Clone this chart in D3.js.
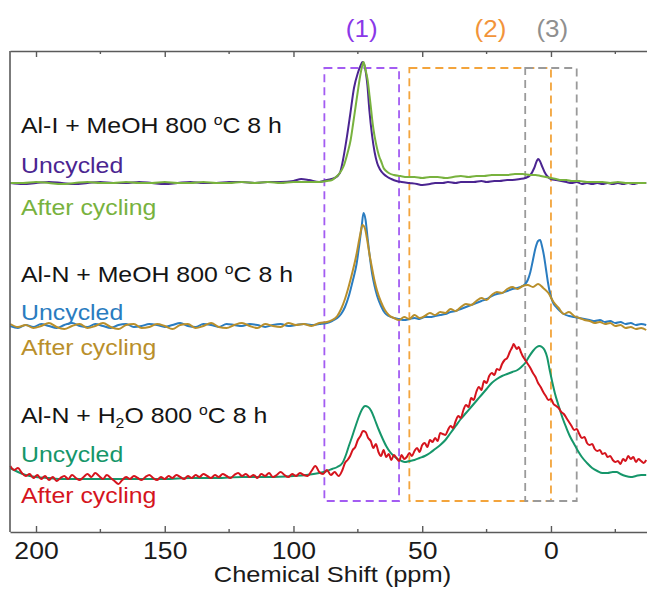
<!DOCTYPE html>
<html>
<head>
<meta charset="utf-8">
<script src="https://cdn.jsdelivr.net/npm/d3@7"></script>
<style>
  html, body { margin: 0; padding: 0; background: #fff; }
  svg { display: block; font-family: "Liberation Sans", Arial, sans-serif; }
</style>
</head>
<body>
<svg id="chart" width="647" height="589"></svg>
<script>
// ---- 27Al MAS NMR spectra: [chemical shift (ppm), intensity above the trace's own baseline] ----
const alI_uncycled = [[210,0],[205,-1],[200,0],[195,1],[190,0],[185,-1],[180,0],[175,1],[170,0],[165,0],[160,1],[155,0],[150,-1],[145,0],[140,1],[135,0],[130,0],[125,1],[120,1],[115,0],[110,1],[105,1],[100,2],[97,4],[94,3],[90,1],[87,3],[84,5],[82,10],[81,20],[79.5,42],[78,68],[76.5,95],[75,110],[74,117],[73.2,121],[72.2,115],[71.3,98],[70.5,72],[69.5,48],[68.5,31],[67.5,20],[66.5,14],[65,9],[63.5,6],[62,4],[60,2],[58,1],[55,0],[52,-1],[50,-2],[47,-1],[45,0],[42,0],[40,1],[37,0],[35,1],[32,1],[30,1],[27,2],[25,1],[22,2],[20,2],[17,3],[15,3],[12,4],[10,5],[8,8],[6.5,15],[5.5,22],[5,24],[4.3,22],[3.5,17],[2.5,11],[1.5,7],[0,4],[-2,3],[-4,2],[-6,1],[-8,0],[-10,1],[-12,-1],[-14,0],[-16,-1],[-18,0],[-20,-1],[-22,0],[-24,-1],[-26,0],[-28,-1],[-30,0],[-32,-1],[-34,0],[-37,0]];

const alI_cycled = [[210,0],[205,0],[200,1],[195,0],[190,-1],[185,0],[180,1],[175,0],[170,0],[165,1],[160,0],[155,0],[150,1],[145,0],[140,0],[135,1],[130,0],[125,0],[120,1],[115,0],[110,1],[105,0],[100,1],[95,1],[90,1],[87,2],[85,3],[83.5,6],[82,10],[80.5,17],[79,30],[77.8,43],[76.8,60],[75.9,76],[75,92],[74.3,104],[73.5,115],[72.8,121],[72,113],[71.2,103],[70.5,88],[70,77],[69.5,65],[68.9,53],[68,40],[67.3,32],[66.5,25],[66,22],[65,15],[64,12],[63,10],[61,8],[58.5,7],[56,6],[53,6],[50,5],[47,6],[44,6],[41,5],[38,6],[35,7],[32,6],[29,7],[26,7],[23,8],[20,8],[17,8],[14,9],[11,9],[8,8],[6,8],[4,7],[2,6],[0,5],[-2,4],[-4,3],[-6,3],[-8,2],[-11,2],[-14,1],[-17,1],[-20,1],[-23,0],[-26,1],[-29,0],[-32,0],[-35,0],[-37,0]];

const alNMeOH_uncycled = [[210,0],[207,-2],[204,1],[201,-1],[198,2],[195,0],[192,-2],[189,1],[186,3],[183,0],[180,-1],[177,2],[174,0],[171,-2],[168,1],[165,2],[162,-1],[159,0],[156,2],[153,1],[150,-1],[147,1],[144,3],[141,0],[138,-1],[135,2],[132,1],[129,-1],[126,2],[123,1],[120,0],[117,2],[114,1],[111,-1],[108,1],[105,2],[102,0],[99,1],[96,2],[93,1],[90,2],[87,3],[85,5],[83,8],[81.5,12],[80,19],[78.5,30],[77,45],[75.5,62],[74.5,80],[73.5,100],[72.8,113],[72,106],[71.3,90],[70.5,72],[69.5,53],[68.5,40],[67.5,30],[66,20],[64.5,13],[63,10],[61,8],[59,7],[57,6],[55,7],[53,8],[51,7],[49,9],[47,9],[45,10],[43,11],[41,12],[39,14],[37,15],[35,17],[33,19],[31,21],[29,23],[27,25],[25,27],[23,30],[21,32],[19,33],[17,35],[15,37],[13,38],[11,40],[10,42],[9,46],[8,54],[7,66],[6,78],[5,85],[4.2,86],[3.5,80],[2.7,70],[2,58],[1.2,44],[0.3,32],[-0.7,24],[-2,19],[-3.5,15],[-5,12],[-7,10],[-9,9],[-11,8],[-13,7],[-15,6],[-17,5],[-19,6],[-21,4],[-23,5],[-25,3],[-27,4],[-29,2],[-31,3],[-33,1],[-35,2],[-37,1]];

const alNMeOH_cycled = [[210,2],[207,-1],[204,1],[201,-2],[198,0],[195,3],[192,-1],[189,-3],[186,0],[183,2],[180,-2],[177,0],[174,3],[171,-1],[168,-3],[165,1],[162,2],[159,-2],[156,-1],[153,2],[150,0],[147,-3],[144,1],[141,2],[138,-2],[135,0],[132,3],[129,-1],[126,-2],[123,1],[120,3],[117,0],[114,-2],[111,2],[108,0],[105,-1],[102,3],[99,1],[96,2],[93,0],[90,3],[87,4],[85,6],[83,10],[81.5,17],[80,27],[78.5,40],[77,55],[75.5,72],[74.2,90],[73.2,101],[72.3,98],[71.5,88],[70.5,72],[69.5,58],[68.5,45],[67.5,35],[66,24],[64.5,16],[63,11],[61,8],[59,6],[57,9],[55,7],[53,11],[51,8],[49,10],[47,13],[45,11],[43,14],[41,13],[39,17],[37,15],[35,19],[33,22],[31,21],[29,25],[27,28],[25,26],[23,31],[21,34],[19,33],[17,37],[15,39],[13,37],[11,40],[9,41],[7,39],[5,42],[3,38],[1,33],[-1,24],[-3,18],[-5,12],[-7,14],[-9,10],[-11,8],[-13,6],[-15,5],[-17,3],[-19,4],[-21,2],[-23,3],[-25,0],[-27,1],[-29,-2],[-31,-1],[-33,-3],[-35,-2],[-37,-4]];

const alNH2O_uncycled = [[210,10],[207,6],[204,3],[200,1],[195,0],[190,-1],[180,-1],[170,-1],[160,-1],[150,-1],[140,0],[130,0],[120,1],[110,1],[100,2],[95,3],[90,5],[87,7],[85,9],[83,11],[81,15],[79.5,24],[78.5,32],[77.4,40],[76,51],[74.5,62],[73.3,69],[72.2,72],[71,71],[69.8,67],[68.5,59],[67,49],[65.5,40],[64,32],[62.5,26],[61,22],[59.5,19],[58,17],[56.8,16],[55,17],[53,18],[51,20],[49,22],[47,25],[45,29],[43,33],[41,38],[39,45],[37,52],[35,59],[33,65],[31,71],[29,77],[27,83],[25,89],[23,95],[21,99],[19,102],[17,104],[15,106],[13,108],[11.5,111],[10,115],[8.6,121],[7,127],[5.5,131],[4.5,132],[3.5,131],[2.5,128],[1.5,121],[0.5,108],[-0.5,96],[-1.5,85],[-3,72],[-4.5,60],[-6,50],[-7.5,41],[-9,34],[-10.5,27],[-12,21],[-14,15],[-16,10],[-18,7],[-20,5],[-22,5],[-24,6],[-25.5,6],[-27,4],[-29,2],[-31,1],[-33,2],[-35,3],[-37,3]];

const alNH2O_cycled = [[210,12],[208.5,8],[207,10],[205.5,5],[204,2],[202.5,4],[201,0],[199.5,3],[198,-1],[196.5,2],[195,-2],[193.5,1],[192,-3],[190.5,0],[189,2],[187.5,-1],[186,3],[184.5,0],[183,-2],[181.5,1],[180,4],[178.5,1],[177,5],[175.5,2],[174,-1],[172.5,3],[171,0],[169.5,-3],[168,-6],[166.5,-2],[165,1],[163.5,-1],[162,2],[160.5,0],[159,-2],[157.5,1],[156,3],[154.5,0],[153,-2],[151.5,1],[150,-1],[148.5,2],[147,0],[145.5,3],[144,1],[142.5,-1],[141,2],[139.5,0],[138,3],[136.5,1],[135,4],[133.5,2],[132,0],[130.5,3],[129,1],[127.5,4],[126,2],[124.5,0],[123,3],[121.5,5],[120,2],[118.5,4],[117,1],[115.5,3],[114,0],[112.5,4],[111,2],[109.5,5],[108,1],[106.5,3],[105,6],[103.5,3],[102,1],[100.5,4],[99,2],[97.5,5],[96,3],[94.5,2],[93,7],[91.5,12],[90,6],[88.5,4],[87,8],[85.5,3],[84,6],[82.5,2],[81,8],[80,15],[79,18],[78,22],[77,28],[76,31],[75,38],[74,42],[73,47],[72,46],[71,40],[70,37],[69,30],[68,34],[67,26],[66,22],[65,28],[64,21],[63,24],[62,18],[61,23],[60,20],[59,17],[58,23],[57,19],[56,21],[55,25],[54,22],[53,27],[52,30],[51,26],[50,33],[49,35],[48,31],[47,38],[46,36],[45,40],[44,37],[43,45],[42,44],[41,43],[40,48],[39,52],[38,50],[37,57],[36,62],[35,60],[34,68],[33,73],[32,71],[31,80],[30,78],[29,86],[28,91],[27,88],[26,97],[25,95],[24,102],[23,105],[22,103],[21,109],[20,108],[19,114],[18,118],[17,120],[16,126],[15,131],[14.5,134],[14,132],[13.2,129],[12.5,131],[11.7,126],[11,122],[10,118],[9,114],[8,110],[7,105],[6,101],[5,95],[4,91],[3,86],[2,82],[1,78],[0,79],[-1,74],[-2,72],[-3,70],[-4,66],[-5,64],[-6,60],[-7,56],[-8,52],[-9,48],[-10,49],[-11,44],[-12,40],[-13,41],[-14,35],[-15,33],[-16,34],[-17,29],[-18,27],[-19,28],[-20,24],[-21,25],[-22,21],[-23,22],[-24,18],[-25,16],[-26,17],[-27,14],[-28,19],[-29,17],[-30,22],[-31,19],[-32,21],[-33,16],[-34,19],[-35,17],[-36,15],[-37,18]];

// vertical offset of each sample's stack (same units as the intensities)
const offsets = { alI: 349, alNMeOH: 206, alNH2O: 54 };

const majorTicks = [200, 150, 100, 50, 0];
const minorTicks = [175, 125, 75, 25, -25];

// marked regions; labelAt is where each heading sits on the ppm axis
const regions = [
  { label: "(1)", from: 88, to: 59, labelAt: 73.5, box: "#a35cf2", text: "#8a38e8" },
  { label: "(2)", from: 55, to: 0,  labelAt: 23.5, box: "#f3a43c", text: "#f2943a" },
  { label: "(3)", from: 10, to: -10, labelAt: -0.5, box: "#9a9a9a", text: "#8f8f8f" }
];

const series = [
  { data: alI_uncycled,     off: offsets.alI,     color: "#4b2591" },
  { data: alI_cycled,       off: offsets.alI,     color: "#78b23e" },
  { data: alNMeOH_uncycled, off: offsets.alNMeOH, color: "#2a7cc0" },
  { data: alNMeOH_cycled,   off: offsets.alNMeOH, color: "#b98f2b" },
  { data: alNH2O_uncycled,  off: offsets.alNH2O,  color: "#16966a" },
  { data: alNH2O_cycled,    off: offsets.alNH2O,  color: "#d5141d" }
];

// ---- layout ----
const plot = { left: 10, right: 647, top: 51, bottom: 532 };
const STRETCH = 1.13; // text is drawn slightly wide

const svg = d3.select("#chart");

const x = d3.scaleLinear().domain([210.1, -37.3]).range([plot.left, plot.right]);
const y = d3.scaleLinear().domain([0, 480]).range([plot.bottom, plot.bottom - 480]);

// dashed region boxes
const boxTop = 68, boxBottom = 501;
svg.append("g").selectAll("rect").data(regions).join("rect")
  .attr("x", d => x(d.from))
  .attr("y", boxTop)
  .attr("width", d => x(d.to) - x(d.from))
  .attr("height", boxBottom - boxTop)
  .attr("fill", "none")
  .attr("stroke", d => d.box)
  .attr("stroke-width", 1.8)
  .attr("stroke-dasharray", "8,5");

svg.append("g").selectAll("text").data(regions).join("text")
  .attr("transform", d => `translate(${x(d.labelAt)},37) scale(${STRETCH},1)`)
  .attr("text-anchor", "middle")
  .attr("font-size", 23)
  .attr("fill", d => d.text)
  .text(d => d.label);

// spectra
const line = d3.line().curve(d3.curveMonotoneX);
const traces = svg.append("g").attr("fill", "none").attr("stroke-width", 2).attr("stroke-linejoin", "round");
series.forEach(s => {
  const pts = s.data.map(([ppm, v]) => [x(ppm), y(v + s.off)]);
  traces.append("path").attr("d", line(pts)).attr("stroke", s.color);
});

// frame and axes
const frameColor = "#5a5a5a";
const bottomAxis = d3.axisBottom(x).tickValues(majorTicks).tickSizeInner(-6).tickSizeOuter(0).tickPadding(10).tickFormat(d3.format("d"));
const gB = svg.append("g").attr("transform", `translate(0,${plot.bottom})`).call(bottomAxis);
gB.select(".domain").attr("stroke", frameColor).attr("stroke-width", 1.6);
gB.selectAll(".tick line").attr("stroke", frameColor).attr("stroke-width", 1.4);
gB.selectAll(".tick text").attr("font-size", 23.5).attr("font-family", "Liberation Sans, Arial, sans-serif")
  .attr("fill", "#1a1a1a").attr("transform", `scale(${STRETCH},1)`);
gB.append("g").selectAll("line").data(minorTicks).join("line")
  .attr("x1", d => x(d)).attr("x2", d => x(d)).attr("y1", 0).attr("y2", -3)
  .attr("stroke", frameColor).attr("stroke-width", 1.4);

const topAxis = d3.axisTop(x).tickValues(majorTicks).tickSizeInner(-6).tickSizeOuter(0).tickFormat("");
const gT = svg.append("g").attr("transform", `translate(0,${plot.top})`).call(topAxis);
gT.select(".domain").attr("stroke", frameColor).attr("stroke-width", 1.6);
gT.selectAll(".tick line").attr("stroke", frameColor).attr("stroke-width", 1.4);
gT.append("g").selectAll("line").data(minorTicks).join("line")
  .attr("x1", d => x(d)).attr("x2", d => x(d)).attr("y1", 0).attr("y2", 3)
  .attr("stroke", frameColor).attr("stroke-width", 1.4);

svg.append("line").attr("x1", plot.left).attr("x2", plot.left).attr("y1", plot.top).attr("y2", plot.bottom)
  .attr("stroke", frameColor).attr("stroke-width", 1.6);

svg.append("text")
  .attr("transform", `translate(${(plot.left + plot.right) / 2 + 4},582) scale(${STRETCH},1)`)
  .attr("text-anchor", "middle").attr("font-size", 22.5).attr("fill", "#1a1a1a")
  .text("Chemical Shift (ppm)");

// sample labels
function label(tx, ty, color, parts) {
  const t = svg.append("text")
    .attr("transform", `translate(${tx},${ty}) scale(${STRETCH},1)`)
    .attr("font-size", 22).attr("fill", color);
  parts.forEach(p => {
    const ts = t.append("tspan").text(p.t);
    if (p.sup) ts.attr("font-size", 14).attr("dy", -8);
    if (p.sub) ts.attr("font-size", 14).attr("dy", 5);
    if (p.back) ts.attr("dy", p.back);
  });
}
const degC = name => [{ t: name + " 800 " }, { t: "o", sup: true }, { t: "C 8 h", back: 8 }];
label(21, 133, "#141414", degC("Al-I + MeOH"));
label(21, 173, "#4b2591", [{ t: "Uncycled" }]);
label(21, 215, "#78b23e", [{ t: "After cycling" }]);
label(21, 282, "#141414", degC("Al-N + MeOH"));
label(21, 320, "#2a7cc0", [{ t: "Uncycled" }]);
label(21, 355, "#b98f2b", [{ t: "After cycling" }]);
label(21, 423, "#141414", [{ t: "Al-N + H" }, { t: "2", sub: true }, { t: "O 800 ", back: -5 }, { t: "o", sup: true }, { t: "C 8 h", back: 8 }]);
label(21, 462, "#16966a", [{ t: "Uncycled" }]);
label(21, 503, "#d5141d", [{ t: "After cycling" }]);
</script>
</body>
</html>
